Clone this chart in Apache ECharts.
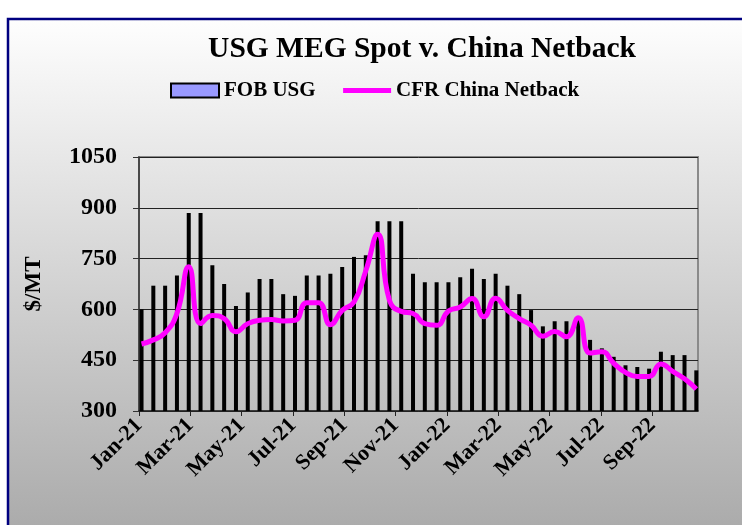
<!DOCTYPE html>
<html>
<head>
<meta charset="utf-8">
<script src="https://cdn.jsdelivr.net/npm/echarts@6/dist/echarts.min.js"></script>
<style>
  html, body { margin: 0; padding: 0; background: #fff; }
  #chart { width: 742px; height: 525px; }
</style>
</head>
<body>
<div id="chart"></div>
<script>
// biweekly price dates
let dates = [
  "2021-01-04", "2021-01-18", "2021-02-01", "2021-02-15", "2021-03-01", "2021-03-15",
  "2021-03-29", "2021-04-12", "2021-04-26", "2021-05-10", "2021-05-24", "2021-06-07",
  "2021-06-21", "2021-07-05", "2021-07-19", "2021-08-02", "2021-08-16", "2021-08-30",
  "2021-09-13", "2021-09-27", "2021-10-11", "2021-10-25", "2021-11-08", "2021-11-22",
  "2021-12-06", "2021-12-20", "2022-01-03", "2022-01-17", "2022-01-31", "2022-02-14",
  "2022-02-28", "2022-03-14", "2022-03-28", "2022-04-11", "2022-04-25", "2022-05-09",
  "2022-05-23", "2022-06-06", "2022-06-20", "2022-07-04", "2022-07-18", "2022-08-01",
  "2022-08-15", "2022-08-29", "2022-09-12", "2022-09-26", "2022-10-10", "2022-10-24"
];
let fobUsg = [
  600, 670, 670, 700, 885, 885, 730, 675, 610, 650, 690, 690,
  645, 640, 700, 700, 705, 725, 755, 760, 860, 860, 860, 705,
  680, 680, 680, 695, 720, 690, 705, 670, 645, 598, 550, 565,
  565, 570, 510, 485, 460, 435, 430, 425, 475, 465, 465, 420
];
let cfrChina = [
  498, 510, 531, 588, 726, 558, 582, 573, 534, 558, 568, 570,
  566, 568, 620, 620, 555, 597, 622, 714, 822, 627, 594, 588,
  558, 553, 595, 607, 632, 578, 633, 597, 573, 553, 521, 535,
  519, 575, 471, 475, 441, 414, 402, 402, 439, 417, 395, 365
];
let xTickLabels = [
  "Jan-21", "Mar-21", "May-21", "Jul-21", "Sep-21", "Nov-21",
  "Jan-22", "Mar-22", "May-22", "Jul-22", "Sep-22"
];

const DAY = 86400000;
const TWO_MONTHS = 60.875; // days
const FONT = "'Liberation Serif', 'Times New Roman', serif";

let start = Date.parse("2021-01-01");
let dayOf = d => (Date.parse(d) - start) / DAY;
let lastDay = dayOf(dates[dates.length - 1]);

let barData = dates.map((d, i) => [dayOf(d), fobUsg[i]]);
let lineData = dates.map((d, i) => [dayOf(d), cfrChina[i]]);

let chart = echarts.init(document.getElementById("chart"));
chart.setOption({
  animation: false,
  graphic: [
    {
      type: "rect",
      z: -10,
      shape: { x: 8, y: 19, width: 760, height: 520 },
      style: {
        fill: new echarts.graphic.LinearGradient(0, 0, 0, 1, [
          { offset: 0, color: "#fefefe" },
          { offset: 1, color: "#a9a9a9" }
        ]),
        stroke: "#000080",
        lineWidth: 2.5
      }
    }
  ],
  title: {
    text: "USG MEG Spot v. China Netback",
    left: 417,
    top: 29,
    textAlign: "center",
    textStyle: {
      fontFamily: FONT,
      fontSize: 29.5,
      fontWeight: "bold",
      color: "#000"
    }
  },
  legend: {
    left: 165,
    top: 75,
    itemWidth: 48,
    itemHeight: 14,
    itemGap: 25,
    textStyle: {
      fontFamily: FONT,
      fontSize: 21,
      fontWeight: "bold",
      color: "#000"
    },
    data: [
      {
        name: "FOB USG",
        icon: "rect",
        itemStyle: { color: "#9999ff", borderColor: "#000", borderWidth: 2 }
      },
      {
        name: "CFR China Netback",
        itemStyle: { opacity: 0 },
        lineStyle: { color: "#ff00ff", width: 5 }
      }
    ]
  },
  grid: {
    left: 139,
    right: 44,
    top: 157,
    bottom: 114,
    show: true,
    borderColor: "#8a8a8a",
    borderWidth: 2,
    backgroundColor: "transparent"
  },
  xAxis: {
    type: "value",
    min: 0,
    max: lastDay + 2,
    interval: TWO_MONTHS,
    axisLine: { lineStyle: { color: "#222", width: 1.5 } },
    axisTick: { length: 5, lineStyle: { color: "#222" } },
    splitLine: { show: false },
    axisLabel: {
      rotate: 45,
      margin: 11,
      showMaxLabel: false,
      fontFamily: FONT,
      fontSize: 22,
      fontWeight: "bold",
      color: "#000",
      formatter(v) {
        let i = Math.round(v / TWO_MONTHS);
        if (Math.abs(v - i * TWO_MONTHS) > 1) return "";
        return xTickLabels[i] || "";
      }
    }
  },
  yAxis: {
    type: "value",
    min: 300,
    max: 1050,
    interval: 150,
    name: "$/MT",
    nameLocation: "middle",
    nameRotate: 90,
    nameGap: 93,
    nameTextStyle: {
      fontFamily: FONT,
      fontSize: 23,
      fontWeight: "bold",
      color: "#000"
    },
    axisLine: { show: true, lineStyle: { color: "#333", width: 1.5 } },
    axisTick: { show: true, length: 6, lineStyle: { color: "#333" } },
    splitLine: { lineStyle: { color: "#222", width: 1 } },
    axisLabel: {
      margin: 22,
      fontFamily: FONT,
      fontSize: 24,
      fontWeight: "bold",
      color: "#000",
      formatter: v => String(v)
    }
  },
  series: [
    {
      name: "FOB USG",
      type: "bar",
      barWidth: 4,
      itemStyle: { color: "#000" },
      data: barData
    },
    {
      name: "CFR China Netback",
      type: "line",
      smooth: true,
      symbol: "none",
      lineStyle: { color: "#ff00ff", width: 5 },
      itemStyle: { color: "#ff00ff" },
      data: lineData
    }
  ]
});
</script>
</body>
</html>
